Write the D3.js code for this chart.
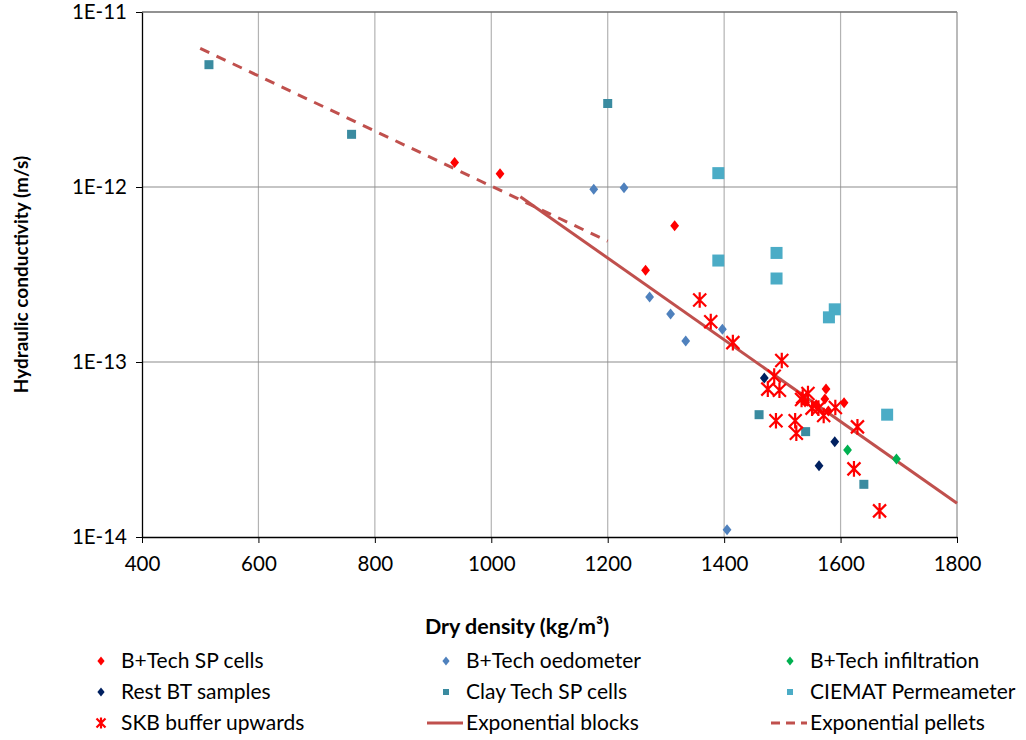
<!DOCTYPE html>
<html>
<head>
<meta charset="utf-8">
<script src="https://cdn.jsdelivr.net/npm/d3@7"></script>
<style>
  body { margin: 0; background: #fff; }
  svg { font-family: Lato, "Noto Sans", sans-serif; }
</style>
</head>
<body>
<script>
// data: [dry density, hydraulic conductivity]
const bTechSP = [[937, 1.38e-12], [1015, 1.19e-12], [1315, 6.0e-13], [1265, 3.34e-13],
  [1575, 7.0e-14], [1573, 6.15e-14], [1606, 5.85e-14], [1579, 5.25e-14], [1558, 5.7e-14], [1539, 5.9e-14]];
const bTechOedo = [[1176, 9.7e-13], [1228, 9.9e-13], [1272, 2.35e-13], [1308, 1.88e-13],
  [1334, 1.32e-13], [1397, 1.54e-13], [1405, 1.1e-14]];
const bTechInfil = [[1612, 3.14e-14], [1696, 2.79e-14]];
const restBT = [[1469, 8.1e-14], [1590, 3.5e-14], [1563, 2.55e-14]];
const clayTechSP = [[515, 5.0e-12], [760, 2.0e-12], [1200, 3.0e-12], [1460, 5.0e-14],
  [1540, 4.0e-14], [1640, 2.0e-14]];
const ciemat = [[1390, 1.2e-12], [1390, 3.8e-13], [1490, 4.2e-13], [1490, 3.0e-13],
  [1590, 2.0e-13], [1580, 1.8e-13], [1680, 5.0e-14]];
const skb = [[1358, 2.26e-13], [1377, 1.70e-13], [1415, 1.29e-13], [1499, 1.02e-13],
  [1486, 8.3e-14], [1475, 7.0e-14], [1495, 6.9e-14], [1535, 6.3e-14], [1544, 6.6e-14],
  [1533, 6.1e-14], [1551, 5.45e-14], [1562, 5.45e-14], [1571, 4.95e-14], [1591, 5.5e-14],
  [1629, 4.26e-14], [1489, 4.62e-14], [1522, 4.62e-14], [1524, 3.92e-14],
  [1623, 2.45e-14], [1667, 1.41e-14]];
const expBlocks = [[1050, 8.8e-13], [1800, 1.56e-14]];
const expPellets = [[500, 6.2e-12], [1200, 4.9e-13]];

const xTicks = [400, 600, 800, 1000, 1200, 1400, 1600, 1800];
const yTicks = [1e-14, 1e-13, 1e-12, 1e-11];

const width = 1026, height = 740;
const margin = { top: 12, right: 69, bottom: 203, left: 142 };

const svg = d3.select("body").append("svg")
  .attr("width", width).attr("height", height);

const x = d3.scaleLinear().domain([400, 1800]).range([margin.left, width - margin.right]);
const y = d3.scaleLog().domain([1e-14, 1e-11]).range([height - margin.bottom, margin.top]);

// グリッド
svg.append("g").selectAll("line").data(xTicks.slice(1, -1)).join("line")
  .attr("x1", d => x(d)).attr("x2", d => x(d))
  .attr("y1", y(1e-11)).attr("y2", y(1e-14))
  .attr("stroke", "#b3b3b3").attr("stroke-width", 1.2);
svg.append("g").selectAll("line").data([1e-13, 1e-12]).join("line")
  .attr("x1", x(400)).attr("x2", x(1800))
  .attr("y1", d => y(d)).attr("y2", d => y(d))
  .attr("stroke", "#8c8c8c").attr("stroke-width", 1.2);
// 上と右の枠
svg.append("line").attr("x1", x(400)).attr("x2", x(1800)).attr("y1", y(1e-11)).attr("y2", y(1e-11))
  .attr("stroke", "#6e6e6e").attr("stroke-width", 1.5);
svg.append("line").attr("x1", x(1800)).attr("x2", x(1800)).attr("y1", y(1e-11)).attr("y2", y(1e-14))
  .attr("stroke", "#8c8c8c").attr("stroke-width", 1.2);

// 軸
const xAxis = svg.append("g")
  .attr("transform", `translate(0,${y(1e-14)})`)
  .call(d3.axisBottom(x).tickValues(xTicks).tickSize(6).tickSizeOuter(0).tickPadding(13)
    .tickFormat(d3.format("d")));
const yAxis = svg.append("g")
  .attr("transform", `translate(${x(400)},0)`)
  .call(d3.axisLeft(y).tickValues(yTicks).tickSize(6).tickSizeOuter(0).tickPadding(9)
    .tickFormat(d => "1E" + Math.round(Math.log10(d))));
[xAxis, yAxis].forEach(g => {
  g.select(".domain").attr("stroke", "#000").attr("stroke-width", 1.3);
  g.selectAll(".tick line").attr("stroke", "#000");
  g.selectAll("text").attr("font-size", 20.5).attr("fill", "#000")
    .attr("font-family", "Lato, 'Noto Sans', sans-serif");
});

// 軸タイトル
svg.append("text").attr("x", 517).attr("y", 634)
  .attr("text-anchor", "middle").attr("font-size", 21.5).attr("font-weight", "bold")
  .html("Dry density (kg/m<tspan>³</tspan>)");
svg.append("text")
  .attr("transform", `translate(28,${y(Math.sqrt(1e-25))}) rotate(-90)`)
  .attr("text-anchor", "middle").attr("font-size", 19).attr("font-weight", "bold")
  .text("Hydraulic conductivity (m/s)");

// マーカー
const diamond = (s) => `M0,${-s}L${s * 0.8},0L0,${s}L${-s * 0.8},0Z`;
const star = (s) => `M${-s},${-s}L${s},${s}M${-s},${s}L${s},${-s}M0,${-s * 1.2}L0,${s * 1.2}`;

const series = [
  { name: "B+Tech SP cells", data: bTechSP, kind: "diamond", color: "#ff0000", size: 5.5 },
  { name: "B+Tech oedometer", data: bTechOedo, kind: "diamond", color: "#4f81bd", size: 5.5 },
  { name: "B+Tech infiltration", data: bTechInfil, kind: "diamond", color: "#00b050", size: 5.5 },
  { name: "Rest BT samples", data: restBT, kind: "diamond", color: "#002060", size: 5.5 },
  { name: "Clay Tech SP cells", data: clayTechSP, kind: "square", color: "#3a8ba0", size: 9 },
  { name: "CIEMAT Permeameter", data: ciemat, kind: "square", color: "#4bacc6", size: 12 },
  { name: "SKB buffer upwards", data: skb, kind: "star", color: "#ff0000", size: 6.5 }
];

const line = d3.line().x(d => x(d[0])).y(d => y(d[1]));
svg.append("path").datum(expBlocks).attr("d", line)
  .attr("fill", "none").attr("stroke", "#c0504d").attr("stroke-width", 3);
svg.append("path").datum(expPellets).attr("d", line)
  .attr("fill", "none").attr("stroke", "#c0504d").attr("stroke-width", 3)
  .attr("stroke-dasharray", "10,8");

function drawMarker(g, s) {
  if (s.kind === "square") {
    g.append("rect").attr("x", -s.size / 2).attr("y", -s.size / 2)
      .attr("width", s.size).attr("height", s.size).attr("fill", s.color);
  } else if (s.kind === "diamond") {
    g.append("path").attr("d", diamond(s.size)).attr("fill", s.color);
  } else {
    g.append("path").attr("d", star(s.size)).attr("fill", "none")
      .attr("stroke", s.color).attr("stroke-width", 2.2);
  }
}

const order = [4, 5, 1, 3, 2, 0, 6];
order.forEach(i => {
  const s = series[i];
  svg.append("g").selectAll("g").data(s.data).join("g")
    .attr("transform", d => `translate(${x(d[0])},${y(d[1])})`)
    .each(function () { drawMarker(d3.select(this), s); });
});

// 凡例
const legendItems = series.map(s => ({ ...s }))
  .concat([{ name: "Exponential blocks", kind: "line" }, { name: "Exponential pellets", kind: "dash" }]);
const colX = [101, 446, 790];
const rowY = [661, 692, 723];
legendItems.forEach((s, i) => {
  const g = svg.append("g").attr("transform", `translate(${colX[i % 3]},${rowY[Math.floor(i / 3)]})`);
  if (s.kind === "line" || s.kind === "dash") {
    g.append("line").attr("x1", -19).attr("x2", 17).attr("y1", 0).attr("y2", 0)
      .attr("stroke", "#c0504d").attr("stroke-width", 3)
      .attr("stroke-dasharray", s.kind === "dash" ? "9,6" : null);
  } else {
    const m = { ...s };
    if (m.kind === "diamond") m.size = 4.5;
    if (m.kind === "square") m.size = 6;
    if (m.kind === "star") m.size = 4.5;
    drawMarker(g, m);
  }
  g.append("text").attr("x", 20).attr("y", 7).attr("font-size", 21).attr("fill", "#000")
    .text(s.name);
});
</script>
</body>
</html>
